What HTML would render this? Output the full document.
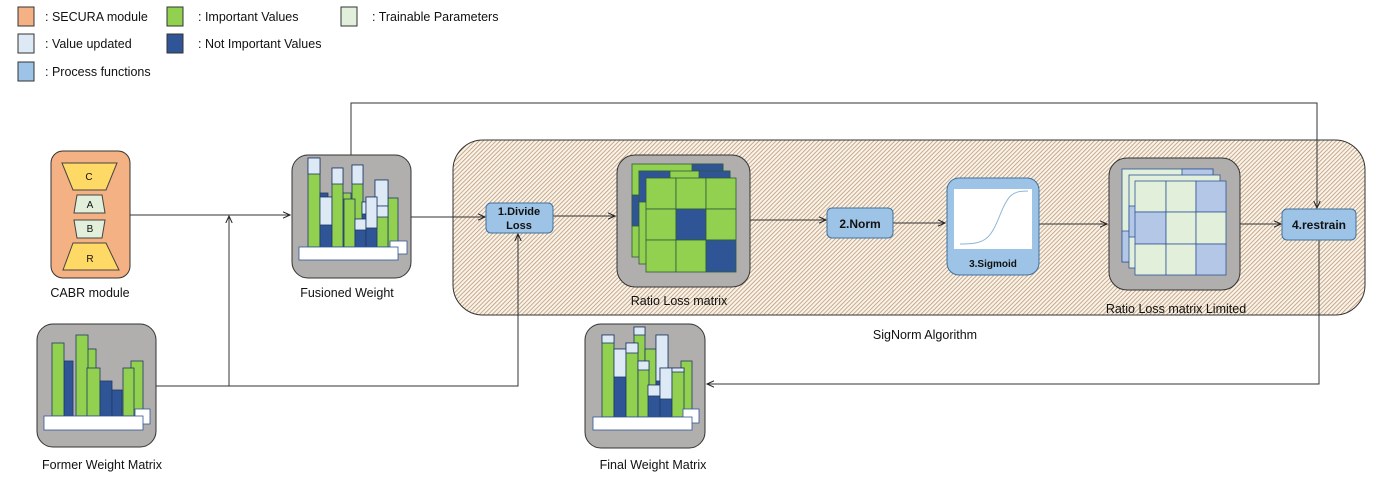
<!DOCTYPE html>
<html><head><meta charset="utf-8"><style>
body{margin:0;background:#fff}
svg{display:block;font-family:"Liberation Sans",sans-serif}
text{font-size:12.5px;fill:#111}
</style></head><body>
<svg width="1377" height="486" viewBox="0 0 1377 486" xmlns="http://www.w3.org/2000/svg">
<defs>
<pattern id="h" width="3" height="3" patternUnits="userSpaceOnUse" patternTransform="rotate(45)">
<rect width="3" height="3" fill="#fbf3e8"/><rect width="0.8" height="3" fill="#b89a7a"/>
</pattern>
<marker id="a" markerWidth="8" markerHeight="8" refX="7" refY="4" orient="auto" markerUnits="userSpaceOnUse">
<path d="M0,0.8 L7,4 L0,7.2" fill="none" stroke="#222" stroke-width="1"/>
</marker>
</defs>
<g stroke="#333" stroke-width="1">
<rect x="18" y="7" width="16" height="19" fill="#f4b183"/>
<rect x="18" y="34" width="16" height="19" fill="#dde9f5"/>
<rect x="18" y="62" width="16" height="19" fill="#9dc3e6"/>
<rect x="167" y="7" width="16" height="19" fill="#92d050"/>
<rect x="167" y="34" width="16" height="19" fill="#2f5597"/>
<rect x="341" y="7" width="16" height="19" fill="#e2efda"/>
</g>
<text x="45" y="21">: SECURA module</text>
<text x="45" y="48">: Value updated</text>
<text x="45" y="76">: Process functions</text>
<text x="198" y="21">: Important Values</text>
<text x="198" y="48">: Not Important Values</text>
<text x="372" y="21">:  Trainable Parameters</text>

<rect x="453" y="140" width="912" height="175" rx="30" fill="url(#h)" stroke="#333"/>

<g stroke="#333" stroke-width="1" fill="none">
<path d="M130,215 H290" marker-end="url(#a)"/>
<path d="M156,386 H229 V216" marker-end="url(#a)"/>
<path d="M229,386 H518 V234" marker-end="url(#a)"/>
<path d="M351,155 V103 H1317 V208" marker-end="url(#a)"/>
<path d="M411,217 H485" marker-end="url(#a)"/>
<path d="M553,216 H615" marker-end="url(#a)"/>
<path d="M750,220 H826" marker-end="url(#a)"/>
<path d="M893,223 H945" marker-end="url(#a)"/>
<path d="M1039,224 H1107" marker-end="url(#a)"/>
<path d="M1240,224 H1281" marker-end="url(#a)"/>
<path d="M1319,240 V384 H707" marker-end="url(#a)"/>
</g>

<rect x="51" y="151" width="79" height="127" rx="12" fill="#f4b183" stroke="#333"/>
<g stroke="#444" stroke-width="1">
<path d="M62,163 H117 L106,190 H73 Z" fill="#ffd966"/>
<path d="M77,195 H102 L105,213 H74 Z" fill="#e2efda"/>
<path d="M74,220 H105 L102,238 H77 Z" fill="#e2efda"/>
<path d="M73,243 H106 L119,270 H63 Z" fill="#ffd966"/>
</g>
<text x="89" y="180" text-anchor="middle" style="font-size:10px">C</text>
<text x="90" y="208" text-anchor="middle" style="font-size:10px">A</text>
<text x="90" y="232" text-anchor="middle" style="font-size:10px">B</text>
<text x="90" y="262" text-anchor="middle" style="font-size:10px">R</text>
<text x="90" y="297" text-anchor="middle">CABR module</text>

<rect x="37" y="324" width="119" height="123" rx="16" fill="#b1aeae" stroke="#333"/>
<g stroke="#1f3864" stroke-width="0.8">
<rect x="64" y="361" width="9" height="55" fill="#2f5597"/>
<rect x="52" y="343" width="12" height="73" fill="#92d050"/>
<rect x="84" y="349" width="12" height="67" fill="#92d050"/>
<rect x="76" y="335" width="12" height="81" fill="#92d050"/>
<rect x="87" y="368" width="13" height="48" fill="#92d050"/>
<rect x="100" y="381" width="12" height="35" fill="#2f5597"/>
<rect x="112" y="390" width="10" height="26" fill="#2f5597"/>
<rect x="131" y="361" width="12" height="55" fill="#92d050"/>
<rect x="123" y="368" width="11" height="48" fill="#92d050"/>
<rect x="135" y="409" width="15" height="15" fill="#fff" stroke="#2f5597"/>
<rect x="44" y="416" width="99" height="14" fill="#fff" stroke="#2f5597"/>
</g>
<text x="102" y="469" text-anchor="middle">Former Weight Matrix</text>

<rect x="292" y="155" width="119" height="123" rx="16" fill="#b1aeae" stroke="#333"/>
<g stroke="#1f3864" stroke-width="0.8">
<rect x="308" y="158" width="12" height="89" fill="#92d050"/><rect x="308" y="158" width="12" height="16" fill="#dde9f5"/>
<rect x="320" y="193" width="8" height="54" fill="#2f5597"/>
<rect x="320" y="197" width="12" height="50" fill="#2f5597"/><rect x="320" y="197" width="12" height="28" fill="#dde9f5"/>
<rect x="343" y="193" width="8" height="54" fill="#92d050"/>
<rect x="332" y="168" width="11" height="79" fill="#92d050"/><rect x="332" y="168" width="11" height="16" fill="#dde9f5"/>
<rect x="352" y="165" width="11" height="82" fill="#92d050"/><rect x="352" y="165" width="11" height="19" fill="#dde9f5"/>
<rect x="344" y="199" width="11" height="48" fill="#92d050"/>
<rect x="362" y="202" width="6" height="45" fill="#2f5597"/><rect x="362" y="202" width="6" height="12" fill="#dde9f5"/>
<rect x="355" y="219" width="11" height="28" fill="#2f5597"/><rect x="355" y="219" width="11" height="11" fill="#dde9f5"/>
<rect x="388" y="198" width="10" height="49" fill="#92d050"/>
<rect x="375" y="180" width="13" height="67" fill="#92d050"/><rect x="375" y="180" width="13" height="26" fill="#dde9f5"/><rect x="375" y="206" width="13" height="11" fill="#dde9f5"/>
<rect x="366" y="197" width="11" height="50" fill="#2f5597"/><rect x="366" y="197" width="11" height="31" fill="#dde9f5"/>
<rect x="390" y="241" width="17" height="13" fill="#fff" stroke="#2f5597"/>
<rect x="299" y="247" width="99" height="13" fill="#fff" stroke="#2f5597"/>
</g>
<text x="347" y="297" text-anchor="middle">Fusioned Weight</text>

<rect x="486" y="203" width="67" height="30" rx="5" fill="#9dc3e6" stroke="#41719c"/>
<text x="519" y="215" text-anchor="middle" style="font-weight:bold;font-size:11px">1.Divide</text>
<text x="519" y="229" text-anchor="middle" style="font-weight:bold;font-size:11px">Loss</text>

<rect x="617" y="155" width="133" height="132" rx="18" fill="#b1aeae" stroke="#333"/>
<g stroke="#2e5a3a" stroke-width="0.8">
<rect x="632" y="164" width="91" height="93" fill="#92d050"/><rect x="692" y="164" width="31" height="31" fill="#2f5597"/><rect x="632" y="195" width="31" height="31" fill="#2f5597"/>
<rect x="639" y="171" width="91" height="93" fill="#92d050"/><rect x="639" y="171" width="31" height="31" fill="#2f5597"/><rect x="699" y="171" width="31" height="31" fill="#2f5597"/>
</g>
<g stroke="#2e5a3a" stroke-width="0.8" fill="#92d050">
<rect x="646" y="178" width="30" height="31"/><rect x="676" y="178" width="30" height="31"/><rect x="706" y="178" width="30" height="31"/>
<rect x="646" y="209" width="30" height="31"/><rect x="676" y="209" width="30" height="31" fill="#2f5597"/><rect x="706" y="209" width="30" height="31"/>
<rect x="646" y="240" width="30" height="32"/><rect x="676" y="240" width="30" height="32"/><rect x="706" y="240" width="30" height="32" fill="#2f5597"/>
</g>
<text x="679" y="305" text-anchor="middle">Ratio Loss matrix</text>

<rect x="827" y="208" width="66" height="30" rx="5" fill="#9dc3e6" stroke="#41719c"/>
<text x="860" y="228" text-anchor="middle" style="font-weight:bold;font-size:12px">2.Norm</text>

<rect x="947" y="178" width="92" height="97" rx="12" fill="#9dc3e6" stroke="#41719c"/>
<rect x="954" y="189" width="78" height="60" fill="#fff"/>
<path d="M960,244 C985,244 990,240 1000,215 C1008,195 1012,191 1028,191" fill="none" stroke="#8fb4d8" stroke-width="1"/>
<text x="993" y="267" text-anchor="middle" style="font-weight:bold;font-size:10px">3.Sigmoid</text>

<rect x="1109" y="158" width="131" height="132" rx="18" fill="#b1aeae" stroke="#333"/>
<g stroke="#2f5597" stroke-width="0.8">
<rect x="1122" y="169" width="91" height="93" fill="#e2efda"/><rect x="1182" y="169" width="31" height="31" fill="#b4c7e7"/><rect x="1122" y="231" width="31" height="31" fill="#b4c7e7"/>
<rect x="1129" y="175" width="91" height="93" fill="#e2efda"/><rect x="1129" y="206" width="31" height="31" fill="#b4c7e7"/>
</g>
<g stroke="#2f5597" stroke-width="0.8" fill="#e2efda">
<rect x="1135" y="181" width="31" height="31"/><rect x="1166" y="181" width="30" height="31"/><rect x="1196" y="181" width="30" height="31" fill="#b4c7e7"/>
<rect x="1135" y="212" width="31" height="32" fill="#b4c7e7"/><rect x="1166" y="212" width="30" height="32"/><rect x="1196" y="212" width="30" height="32"/>
<rect x="1135" y="244" width="31" height="31"/><rect x="1166" y="244" width="30" height="31"/><rect x="1196" y="244" width="30" height="31" fill="#b4c7e7"/>
</g>
<text x="1176" y="313" text-anchor="middle">Ratio Loss matrix Limited</text>

<rect x="1282" y="209" width="74" height="31" rx="5" fill="#9dc3e6" stroke="#41719c"/>
<text x="1319" y="229" text-anchor="middle" style="font-size:12px;font-weight:bold">4.restrain</text>

<text x="925" y="339" text-anchor="middle">SigNorm Algorithm</text>

<rect x="585" y="324" width="120" height="124" rx="16" fill="#b1aeae" stroke="#333"/>
<g stroke="#1f3864" stroke-width="0.8">
<rect x="634" y="327" width="11" height="90" fill="#92d050"/><rect x="634" y="327" width="11" height="8" fill="#dde9f5"/>
<rect x="645" y="349" width="11" height="68" fill="#92d050"/>
<rect x="656" y="335" width="12" height="82" fill="#2f5597"/><rect x="656" y="335" width="12" height="46" fill="#dde9f5"/>
<rect x="602" y="335" width="12" height="82" fill="#92d050"/><rect x="602" y="335" width="12" height="8" fill="#dde9f5"/>
<rect x="614" y="349" width="12" height="68" fill="#2f5597"/><rect x="614" y="349" width="12" height="28" fill="#dde9f5"/>
<rect x="626" y="343" width="12" height="74" fill="#92d050"/><rect x="626" y="343" width="12" height="10" fill="#dde9f5"/>
<rect x="638" y="361" width="11" height="56" fill="#92d050"/><rect x="638" y="361" width="11" height="9" fill="#dde9f5"/>
<rect x="681" y="361" width="11" height="56" fill="#92d050"/>
<rect x="648" y="385" width="12" height="32" fill="#2f5597"/><rect x="648" y="385" width="12" height="11" fill="#dde9f5"/>
<rect x="660" y="368" width="12" height="49" fill="#2f5597"/><rect x="660" y="368" width="12" height="31" fill="#dde9f5"/>
<rect x="672" y="368" width="12" height="49" fill="#92d050"/><rect x="672" y="368" width="12" height="4" fill="#dde9f5"/>
<rect x="683" y="409" width="16" height="14" fill="#fff" stroke="#2f5597"/>
<rect x="593" y="417" width="99" height="13" fill="#fff" stroke="#2f5597"/>
</g>
<text x="653" y="469" text-anchor="middle">Final Weight Matrix</text>
</svg>
</body></html>
